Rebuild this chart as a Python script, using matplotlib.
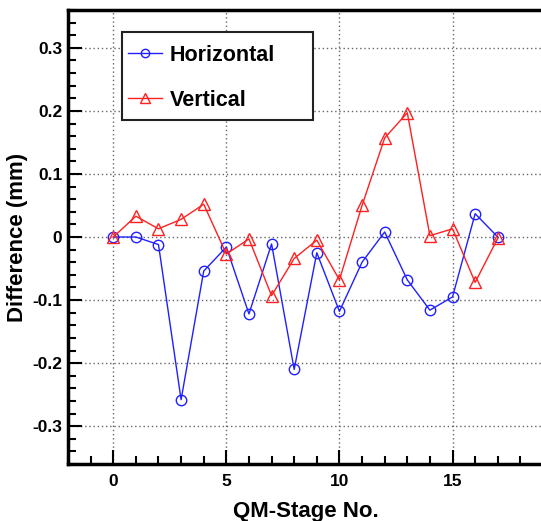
import matplotlib.pyplot as plt
import numpy as np
from matplotlib.patches import Rectangle
from matplotlib.ticker import MultipleLocator

plt.rcParams['font.family'] = ['Liberation Sans', 'DejaVu Sans']
plt.rcParams['font.weight'] = 'bold'

stage = np.arange(18)
horizontal = [0.0, 0.0, -0.012, -0.258, -0.054, -0.016, -0.122, -0.011, -0.210, -0.025,
              -0.118, -0.040, 0.008, -0.068, -0.116, -0.095, 0.037, 0.0]
vertical = [0.0, 0.033, 0.013, 0.028, 0.052, -0.027, -0.003, -0.093, -0.034, -0.005,
            -0.068, 0.050, 0.157, 0.197, 0.002, 0.013, -0.072, -0.002]

fig = plt.figure(figsize=(5.41, 5.21), dpi=100)
ax = fig.add_axes([0.1257, 0.1094, 0.878, 0.8714])

ax.plot(stage, horizontal, 'o-', color='#2020ff', lw=1.0, ms=7.5, mfc='none', mew=1.0,
        label='Horizontal')
ax.plot(stage, vertical, '^-', color='#ff2020', lw=1.0, ms=9, mfc='none', mew=1.0,
        label='Vertical')

ax.set_xlim(-2, 19)
ax.set_ylim(-0.36, 0.36)
ax.xaxis.set_minor_locator(MultipleLocator(1))
ax.yaxis.set_minor_locator(MultipleLocator(0.02))
ax.set_yticks([-0.3, -0.2, -0.1, 0, 0.1, 0.2, 0.3])
ax.set_yticklabels(['-0.3', '-0.2', '-0.1', '0', '0.1', '0.2', '0.3'])
ax.set_xticks([0, 5, 10, 15])
ax.set_xticklabels(['0', '5', '10', '15'])

ax.tick_params(which='both', direction='in', top=False, right=False, labelsize=12.5,
               width=1.5)
ax.tick_params(axis='y', pad=4)
ax.tick_params(axis='x', pad=7)
ax.tick_params(which='major', length=10)
ax.tick_params(which='minor', length=6)
for s in ['left', 'bottom', 'top']:
    ax.spines[s].set_linewidth(2.5)
ax.spines['right'].set_visible(False)

ax.grid(True, which='major', ls=(0, (1, 2)), color='#666666', lw=1.0)

ax.set_xlabel('QM-Stage No.', fontsize=16, fontweight='bold', labelpad=9)
ax.set_ylabel('Difference (mm)', fontsize=16, fontweight='bold', labelpad=3)

# legend box drawn separately (fixed size, like the original)
box = Rectangle((0.1137, 0.7577), 0.402, 0.194, transform=ax.transAxes,
                facecolor='white', edgecolor='#222222', lw=1.5, zorder=5)
ax.add_patch(box)
leg = ax.legend(loc='upper left', bbox_to_anchor=(0.1263, 0.923), fontsize=15.5,
                frameon=False, handlelength=1.6, handletextpad=0.33,
                borderpad=0, labelspacing=1.1, borderaxespad=0, markerscale=0.8)
leg.set_zorder(6)
for t in leg.get_texts():
    t.set_fontweight('bold')

fig.savefig('out.png', dpi=100)
